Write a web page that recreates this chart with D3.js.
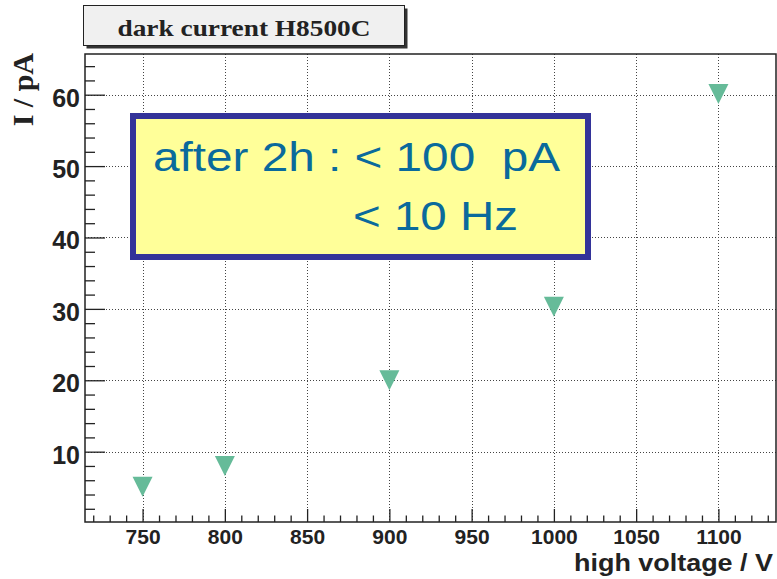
<!DOCTYPE html>
<html>
<head>
<meta charset="utf-8">
<script src="https://cdn.jsdelivr.net/npm/d3@7"></script>
<style>
  body { margin: 0; background: #fff; }
  svg { display: block; }
</style>
</head>
<body>
<div id="chart"></div>
<script>
// dark current vs high voltage
const voltages = [750, 800, 900, 1000, 1100];
const darkCurrent = [5.1, 8.0, 20.0, 30.3, 60.1];
const xTicks = [750, 800, 850, 900, 950, 1000, 1050, 1100];
const yTicks = [10, 20, 30, 40, 50, 60];
const noteLines = ['after 2h : < 100  pA', '< 10 Hz'];

function drawDarkCurrent(container, d3 = window.d3) {
    const w = 777, h = 579;
    const frame = {left: 85, right: 776, top: 54, bottom: 522};

    const svg = d3.select(container)
        .append('svg')
        .attr('width', w)
        .attr('height', h);

    const x = d3.scaleLinear().domain([715, 1135]).range([frame.left, frame.right]);
    const y = d3.scaleLinear().domain([0.15, 65.7]).range([frame.bottom, frame.top]);

    // dotted grid at the major ticks
    const grid = svg.append('g')
        .attr('stroke', '#444')
        .attr('stroke-width', 1)
        .attr('stroke-dasharray', '1,2');
    grid.selectAll('line.gx')
        .data(xTicks)
        .enter().append('line')
        .attr('class', 'gx')
        .attr('x1', d => Math.round(x(d)) + 0.5).attr('x2', d => Math.round(x(d)) + 0.5)
        .attr('y1', frame.top).attr('y2', frame.bottom);
    grid.selectAll('line.gy')
        .data(yTicks)
        .enter().append('line')
        .attr('class', 'gy')
        .attr('y1', d => Math.round(y(d)) + 0.5).attr('y2', d => Math.round(y(d)) + 0.5)
        .attr('x1', frame.left).attr('x2', frame.right);

    // axes: ticks point into the frame
    const xMinor = d3.range(720, 1131, 10).filter(v => v % 50 !== 0);
    const yMinor = d3.range(2, 65, 2).filter(v => v % 10 !== 0);

    const gx = svg.append('g').attr('transform', `translate(0,${frame.bottom})`);
    gx.call(d3.axisBottom(x).tickValues(xMinor).tickSize(-6.5).tickFormat(''));
    gx.call(g => g.select('.domain').remove());
    const gxMaj = svg.append('g').attr('transform', `translate(0,${frame.bottom})`);
    gxMaj.call(d3.axisBottom(x).tickValues(xTicks).tickSize(-13).tickPadding(7).tickFormat(d3.format('d')));
    gxMaj.select('.domain').remove();

    const gy = svg.append('g').attr('transform', `translate(${frame.left},0)`);
    gy.call(d3.axisLeft(y).tickValues(yMinor).tickSize(-10).tickFormat(''));
    gy.select('.domain').remove();
    const gyMaj = svg.append('g').attr('transform', `translate(${frame.left},0)`);
    gyMaj.call(d3.axisLeft(y).tickValues(yTicks).tickSize(-20).tickPadding(5).tickFormat(d3.format('d')));
    gyMaj.select('.domain').remove();

    svg.selectAll('.tick line').attr('stroke', '#222').attr('stroke-width', 1.3);
    gxMaj.selectAll('text')
        .attr('font-family', '"Liberation Sans", Arial, sans-serif')
        .attr('font-weight', 'bold')
        .attr('font-size', 21)
        .attr('fill', '#222');
    gyMaj.selectAll('text')
        .attr('font-family', '"Liberation Sans", Arial, sans-serif')
        .attr('font-weight', 'bold')
        .attr('font-size', 25)
        .attr('dy', '0.46em')
        .attr('fill', '#222');

    // frame
    svg.append('rect')
        .attr('x', frame.left).attr('y', frame.top)
        .attr('width', frame.right - frame.left)
        .attr('height', frame.bottom - frame.top)
        .attr('fill', 'none')
        .attr('stroke', '#222')
        .attr('stroke-width', 1.5);

    // note box
    const note = svg.append('g');
    note.append('rect')
        .attr('x', 133).attr('y', 116)
        .attr('width', 455).attr('height', 141)
        .attr('fill', '#ffff99')
        .attr('stroke', '#333399')
        .attr('stroke-width', 6);
    note.selectAll('text')
        .data(noteLines)
        .enter().append('text')
        .attr('x', (d, i) => i ? 353 : 153)
        .attr('y', (d, i) => i ? 230 : 171)
        .attr('font-family', '"Liberation Sans", Arial, sans-serif')
        .attr('font-size', 40)
        .attr('fill', '#0a6a9c')
        .attr('textLength', (d, i) => i ? 165 : 407)
        .attr('lengthAdjust', 'spacingAndGlyphs')
        .style('white-space', 'pre')
        .text(d => d);

    // downward triangles (ROOT marker 23)
    const triangleDown = {
        draw(ctx, size) {
            const r = Math.sqrt(size) / 2;
            ctx.moveTo(-r, -r);
            ctx.lineTo(r, -r);
            ctx.lineTo(0, r);
            ctx.closePath();
        }
    };
    svg.append('g')
        .selectAll('path')
        .data(voltages.map((v, i) => ({v, c: darkCurrent[i]})))
        .enter().append('path')
        .attr('transform', d => `translate(${x(d.v)},${y(d.c)})`)
        .attr('d', d3.symbol().type(triangleDown).size(400))
        .attr('fill', '#66bb99');

    // title pave with shadow
    svg.append('rect')
        .attr('x', 86.5).attr('y', 8.5).attr('width', 321).attr('height', 40)
        .attr('fill', '#333');
    svg.append('rect')
        .attr('x', 83.5).attr('y', 5.5).attr('width', 321).attr('height', 40)
        .attr('fill', '#f0f0f0')
        .attr('stroke', '#222')
        .attr('stroke-width', 1);
    svg.append('text')
        .attr('x', 244).attr('y', 36)
        .attr('text-anchor', 'middle')
        .attr('font-family', '"Liberation Serif", "Times New Roman", serif')
        .attr('font-weight', 'bold')
        .attr('font-size', 24)
        .attr('fill', '#222')
        .attr('textLength', 253)
        .attr('lengthAdjust', 'spacingAndGlyphs')
        .text('dark current H8500C');

    // axis titles
    svg.append('text')
        .attr('transform', 'translate(33,53) rotate(-90)')
        .attr('text-anchor', 'end')
        .attr('font-family', '"Liberation Serif", "Times New Roman", serif')
        .attr('font-weight', 'bold')
        .attr('font-size', 30)
        .attr('fill', '#222')
        .text('I / pA');
    svg.append('text')
        .attr('x', 773).attr('y', 571)
        .attr('text-anchor', 'end')
        .attr('font-family', '"Liberation Sans", Arial, sans-serif')
        .attr('font-weight', 'bold')
        .attr('font-size', 24)
        .attr('fill', '#222')
        .attr('textLength', 199)
        .attr('lengthAdjust', 'spacingAndGlyphs')
        .text('high voltage / V');
}

drawDarkCurrent(document.getElementById('chart'));
</script>
</body>
</html>
